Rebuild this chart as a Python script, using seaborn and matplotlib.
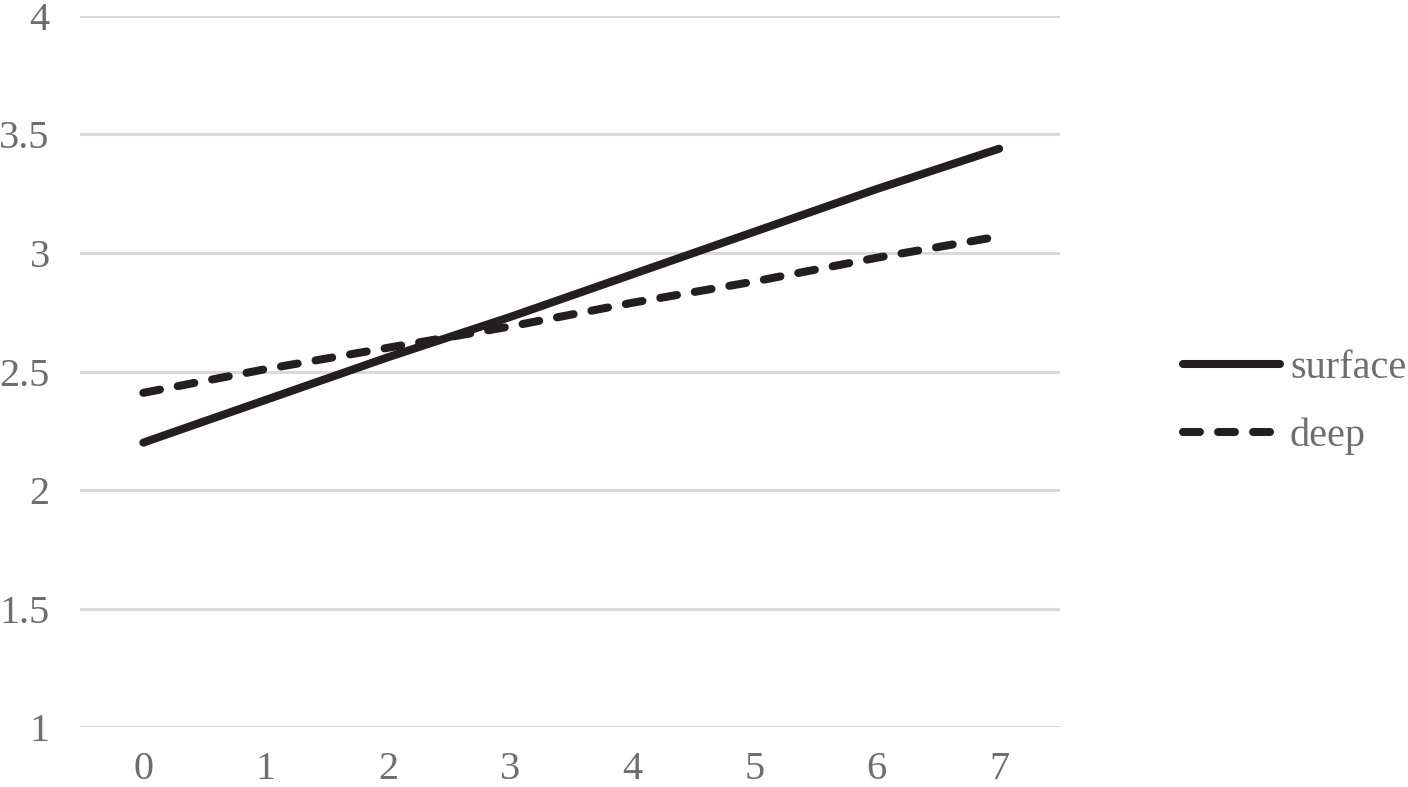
import matplotlib
matplotlib.use("Agg")
import matplotlib.pyplot as plt
import pandas as pd
import seaborn as sns

# values
x_vals = [0, 1, 2, 3, 4, 5, 6, 7]
surface = [2.20, 2.38, 2.56, 2.73, 2.91, 3.09, 3.27, 3.44]
deep = [2.41, 2.51, 2.60, 2.69, 2.79, 2.88, 2.98, 3.07]
series_names = ["surface", "deep"]
y_ticks = [1, 1.5, 2, 2.5, 3, 3.5, 4]
y_labels = ["1", "1.5", "2", "2.5", "3", "3.5", "4"]

df = pd.DataFrame({
    "x": x_vals * 2,
    "y": surface + deep,
    "series": [series_names[0]] * len(x_vals) + [series_names[1]] * len(x_vals),
})

sns.set_theme(style="white")
plt.rcParams["font.family"] = ["Liberation Serif", "DejaVu Serif"]

line_color = "#231f20"
text_color = "#6e6e6e"
lw = 5.8
dash = (2.1, 2.25)

fig = plt.figure(figsize=(14.08, 7.87), dpi=100)
ax = fig.add_axes([0.057, 0.0762, 0.696, 0.9035])

sns.lineplot(
    data=df, x="x", y="y", hue="series", style="series",
    palette={"surface": line_color, "deep": line_color},
    dashes={"surface": "", "deep": dash},
    linewidth=lw, ax=ax, legend=False,
)
for ln in ax.get_lines():
    ln.set_solid_capstyle("round")
    ln.set_dash_capstyle("round")

ax.set_xlim(-0.516, 7.5)
ax.set_ylim(1, 4)
ax.set_yticks(y_ticks)
ax.set_yticklabels(y_labels)
ax.set_xticks(x_vals)
ax.set_xticklabels([str(v) for v in x_vals])
ax.set_xlabel("")
ax.set_ylabel("")

ax.grid(axis="y", color="#d9d9d9", linewidth=2.2)
ax.grid(axis="x", visible=False)
ax.set_axisbelow(True)
for sp in ax.spines.values():
    sp.set_visible(False)
ax.tick_params(axis="both", length=0, labelsize=29, labelcolor=text_color)
ax.tick_params(axis="y", pad=22)
ax.tick_params(axis="x", pad=17)

handles = [
    plt.Line2D([], [], color=line_color, lw=lw, solid_capstyle="round"),
    plt.Line2D([], [], color=line_color, lw=lw, dashes=dash,
               dash_capstyle="round"),
]
leg = fig.legend(handles, series_names, loc="center left",
                 bbox_to_anchor=(0.8403, 0.489), frameon=False,
                 fontsize=29, handlelength=2.4, handletextpad=0.25,
                 labelspacing=0.75, borderaxespad=0, borderpad=0)
for t in leg.get_texts():
    t.set_color(text_color)

fig.savefig("out.png", dpi=100)
